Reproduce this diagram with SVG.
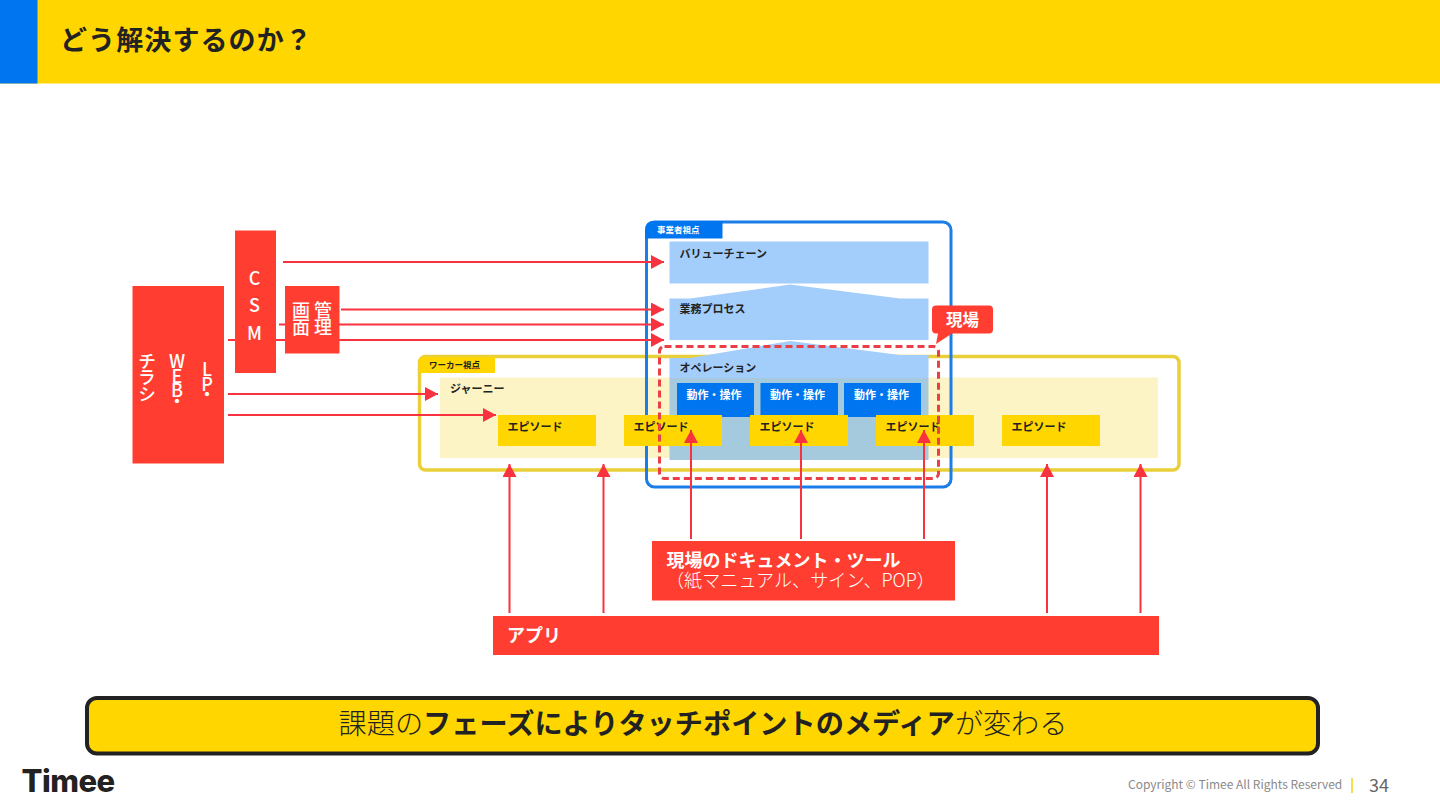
<svg xmlns="http://www.w3.org/2000/svg" width="1440" height="810" viewBox="0 0 1440 810">
<style>
text{font-family:"Noto Sans CJK JP","Noto Sans",sans-serif;fill:#222}
.b{font-weight:700}
.w{fill:#fff}
.red{fill:#ff3d31}
.lb{fill:#a3cdfb}
.ep{fill:#ffd600}
.act{fill:#0075f0}
.s9{font-size:11px;font-weight:700}
.v{writing-mode:vertical-rl;text-orientation:upright;font-size:18px;fill:#fff;font-weight:500}
.st{font-size:18px;fill:#fff;font-weight:500;text-anchor:middle}
.ln{stroke:#f8323f;stroke-width:2;fill:none}
.ar{marker-end:url(#a)}
</style>
<defs><marker id="a" markerUnits="userSpaceOnUse" markerWidth="13" markerHeight="14" refX="13" refY="7" orient="auto"><path d="M0 0L13 7L0 14Z" fill="#f8323f"/></marker></defs>
<rect width="1440" height="810" fill="#fff"/>
<g id="header"><rect width="1440" height="83.5" fill="#ffd600"/><rect width="37.5" height="83.5" fill="#0075f0"/><text x="60" y="50" font-size="27" class="b" letter-spacing="1.1">どう解決するのか？</text></g>

<g id="worker-frame"><rect x="419.5" y="356.5" width="759.500" height="113.500" rx="6" fill="#fff" stroke="#e9cf3a" stroke-width="3.500"/></g>
<g id="journey"><rect x="440" y="377.5" width="718" height="80.5" fill="#fdf4c6"/><text x="450" y="393" class="s9">ジャーニー</text></g>
<g id="worker-tag"><path d="M419 361Q419 357 423 357H495V373H419Z" fill="#ffd600"/><text x="429" y="368" font-size="8.500" class="b">ワーカー視点</text></g>

<g id="biz-frame"><rect x="646.5" y="222" width="304.5" height="265" rx="8" fill="none" stroke="#1a7de8" stroke-width="3"/><path d="M645 230Q645 221 654 221H722.500V238.500H645Z" class="act"/><text x="657" y="233" font-size="8.500" class="b w">事業者視点</text></g>
<g id="value-chain"><rect x="669.500" y="241.500" width="259" height="42" class="lb"/><text x="679.500" y="258" class="s9">バリューチェーン</text></g>
<g id="process"><path d="M669.500 298.500L690 298.500L790 284.500L900 298.500H928.500V340H669.500Z" class="lb"/><text x="679.500" y="312.500" class="s9">業務プロセス</text></g>
<g id="operation"><path d="M669.500 358L690 358L790 341L900 355H928.500V378H669.500Z" class="lb"/><rect x="669.500" y="378" width="259" height="82" fill="#a5c9dd"/><text x="679.500" y="371.500" class="s9">オペレーション</text></g>
<g id="action-1"><rect x="677" y="383" width="77" height="34" class="act"/><text x="714" y="399" class="s9 w" text-anchor="middle">動作・操作</text></g>
<g id="action-2"><rect x="760.500" y="383" width="77.500" height="34" class="act"/><text x="797.500" y="399" class="s9 w" text-anchor="middle">動作・操作</text></g>
<g id="action-3"><rect x="844" y="383" width="77" height="34" class="act"/><text x="881.500" y="399" class="s9 w" text-anchor="middle">動作・操作</text></g>
<g id="episode-1"><rect x="498" y="415" width="98" height="31" class="ep"/><text x="507.500" y="430.500" class="s9">エピソード</text></g>
<g id="episode-2"><rect x="624" y="415" width="98" height="31" class="ep"/><text x="633.500" y="430.500" class="s9">エピソード</text></g>
<g id="episode-3"><rect x="750" y="415" width="98" height="31" class="ep"/><text x="759.500" y="430.500" class="s9">エピソード</text></g>
<g id="episode-4"><rect x="876" y="415" width="98" height="31" class="ep"/><text x="885.500" y="430.500" class="s9">エピソード</text></g>
<g id="episode-5"><rect x="1002" y="415" width="98" height="31" class="ep"/><text x="1011.500" y="430.500" class="s9">エピソード</text></g>

<g id="genba-frame"><rect x="659.500" y="346.500" width="279" height="132" rx="5" fill="none" stroke="#ea3f44" stroke-width="3" stroke-dasharray="7 4"/></g>
<g id="genba"><path d="M936 305.500H989Q993 305.500 993 309.500V329.500Q993 333.500 989 333.500H952L936 344L938 333.500H936Q932 333.500 932 329.500V309.500Q932 305.500 936 305.500Z" class="red"/><text x="962.500" y="325.500" font-size="16.500" class="b w" text-anchor="middle">現場</text></g>

<g id="connectors">
<path class="ln ar" d="M283 262H664"/>
<path class="ln ar" d="M341 309.500H664"/>
<path class="ln ar" d="M279 324.500H664"/>
<path class="ln ar" d="M228 340H664"/>
<path class="ln ar" d="M228 394H438"/>
<path class="ln ar" d="M228 415H496"/>
<path class="ln ar" d="M509.500 613V464"/>
<path class="ln ar" d="M603.500 613V464"/>
<path class="ln ar" d="M1047 613V464"/>
<path class="ln ar" d="M1140.500 613V464"/>
<path class="ln ar" d="M691 539V430"/>
<path class="ln ar" d="M801 539V430"/>
<path class="ln ar" d="M924 539V430"/>
</g>

<g id="lp-web-flyer"><rect x="132.500" y="286" width="91.500" height="177.500" class="red"/>
<text class="st" x="207 207 207" y="376 391 401">LP・</text>
<text class="st" x="177 177 177 177" y="368 382.500 397 408">WEB・</text>
<text class="v" x="147" y="352" style="letter-spacing:-1.500px">チラシ</text></g>
<g id="csm"><rect x="235" y="230.500" width="41" height="142.500" class="red"/>
<text x="254.500" y="285" font-size="18" class="w" font-weight="500" text-anchor="middle">C</text>
<text x="254.500" y="312" font-size="18" class="w" font-weight="500" text-anchor="middle">S</text>
<text x="254.500" y="340" font-size="18" class="w" font-weight="500" text-anchor="middle">M</text></g>
<g id="admin"><rect x="285" y="286" width="54.500" height="67.500" class="red"/>
<text class="v" x="323" y="301" style="letter-spacing:-0.500px">管理</text>
<text class="v" x="301" y="301" style="letter-spacing:-0.500px">画面</text></g>

<g id="docs"><rect x="652" y="541" width="303" height="59.500" class="red"/><text x="666.500" y="566.500" font-size="18" class="b w">現場のドキュメント・ツール</text><text x="666" y="587" font-size="18.100" class="w" font-weight="300">（紙マニュアル、サイン、POP）</text></g>
<g id="app"><rect x="493" y="616" width="666" height="39" class="red"/><text x="507" y="642" font-size="18" class="b w">アプリ</text></g>

<g id="summary"><rect x="87" y="698" width="1231" height="55.500" rx="10" fill="#ffd600" stroke="#222" stroke-width="4"/><text x="703" y="734" font-size="28.200" font-weight="300" text-anchor="middle">課題の<tspan font-weight="700">フェーズによりタッチポイントのメディア</tspan>が変わる</text></g>

<g id="footer"><text x="21.500" y="792" style="font-family:Inter,sans-serif;font-weight:800" font-size="31" letter-spacing="-0.500">Timee</text>
<text x="1128" y="789" style="fill:#8a8a8a" font-size="12">Copyright © Timee All Rights Reserved</text>
<rect x="1351" y="778" width="2" height="15" fill="#f5dc50"/>
<text x="1369" y="792" style="fill:#666" font-size="18">34</text></g>
</svg>
